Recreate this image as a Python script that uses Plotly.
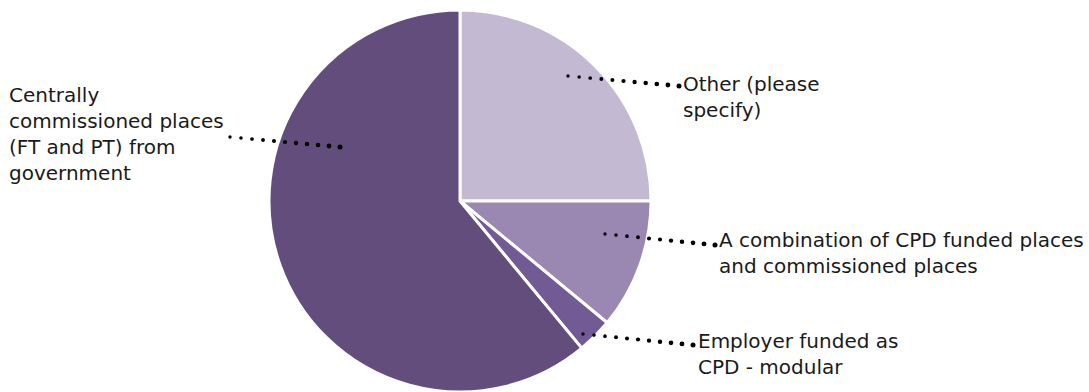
import numpy as np
import plotly.graph_objects as go

# Funding source shares (percent), clockwise from 12 o'clock
categories = [
    "Other (please specify)",
    "A combination of CPD funded places and commissioned places",
    "Employer funded as CPD - modular",
    "Centrally commissioned places (FT and PT) from government",
]
shares = [25, 11, 3, 61]
slice_colors = ["#c3b9d2", "#9a88b3", "#725a95", "#634d7d"]

# Wrapped label text shown beside the pie
label_lines = [
    ["Other (please", "specify)"],
    ["A combination of CPD funded places", "and commissioned places"],
    ["Employer funded as", "CPD - modular"],
    ["Centrally", "commissioned places", "(FT and PT) from", "government"],
]

W, H = 1089, 392
FONT = "DejaVu Sans"
FS = 20

# Pie placement in pixels
cx, cy, r = 460, 201, 191

# Leader line (start, end) and label anchor (left x, top y) in pixels
leaders = [
    ((568, 76), (679, 86)),
    ((605, 234), (715, 245)),
    ((583, 334), (693, 345)),
    ((230, 137), (340, 147)),
]
label_pos = [(682, 71), (718, 227), (697, 328), (8, 82)]

fig = go.Figure()

fig.add_trace(go.Pie(
    labels=categories,
    values=shares,
    sort=False,
    direction="clockwise",
    rotation=0,
    textinfo="none",
    hoverinfo="label+percent",
    marker=dict(colors=slice_colors, line=dict(color="white", width=3)),
    domain=dict(x=[(cx - r) / W, (cx + r) / W], y=[(H - cy - r) / H, (H - cy + r) / H]),
    showlegend=False,
))

# Dotted leaders: rows of round dots drawn above the pie
for (x0, y0), (x1, y1) in leaders:
    n = 11
    xs = np.linspace(x0, x1, n)
    ys = np.linspace(y0, y1, n)
    ds = np.linspace(3.4, 5.0, n)
    for x, y, d in zip(xs, ys, ds):
        fig.add_shape(
            type="circle", xref="x", yref="y", layer="above",
            x0=x - d / 2, x1=x + d / 2, y0=y - d / 2, y1=y + d / 2,
            fillcolor="black", line=dict(width=0),
        )

for lines, (lx, ly) in zip(label_lines, label_pos):
    fig.add_annotation(
        x=lx, y=ly, xref="x", yref="y",
        text="<br>".join(lines),
        showarrow=False, xanchor="left", yanchor="top", align="left",
        font=dict(family=FONT, size=FS, color="#1a1a1a"),
        borderpad=0,
    )

fig.update_layout(
    width=W, height=H,
    margin=dict(l=0, r=0, t=0, b=0),
    paper_bgcolor="white", plot_bgcolor="rgba(0,0,0,0)",
    xaxis=dict(range=[0, W], visible=False, fixedrange=True),
    yaxis=dict(range=[H, 0], visible=False, fixedrange=True),
)

fig.write_html("out.html")
